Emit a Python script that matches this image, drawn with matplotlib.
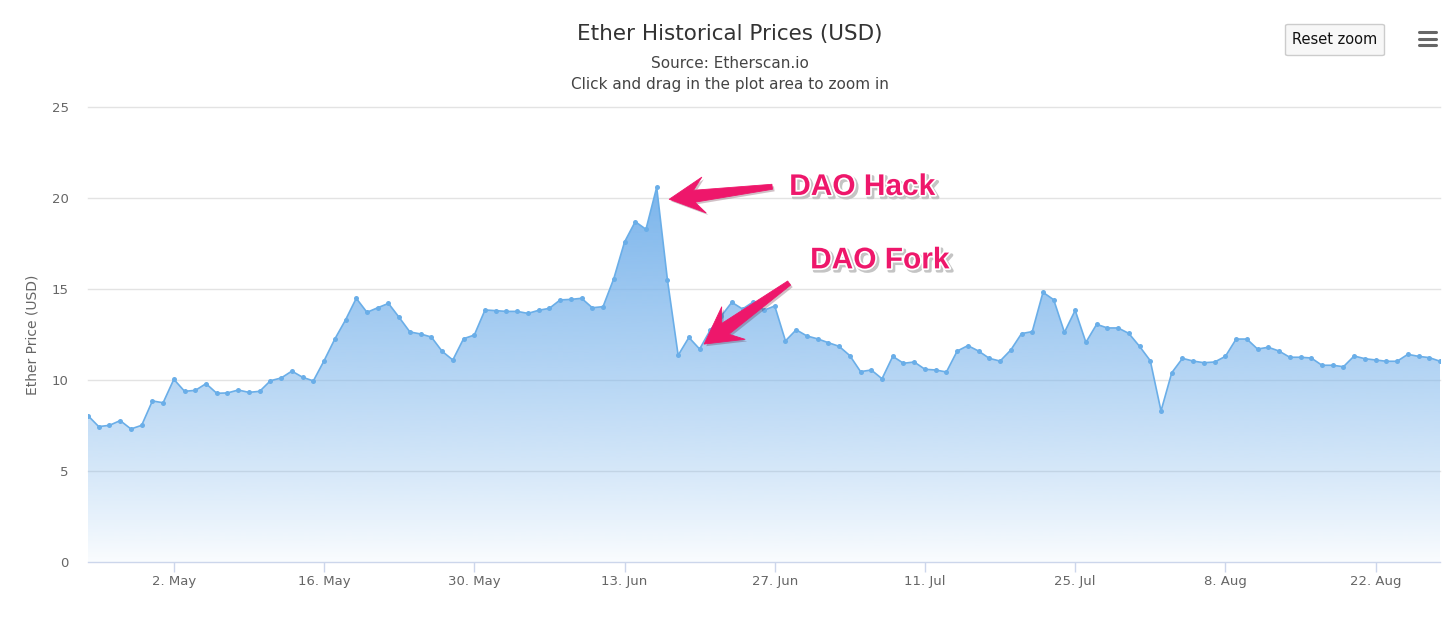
import numpy as np
import pandas as pd
import matplotlib
matplotlib.use("Agg")
import matplotlib.pyplot as plt
import matplotlib.dates as mdates
import matplotlib.patheffects as pe
from matplotlib.patches import Polygon, FancyBboxPatch
from matplotlib.lines import Line2D

# ---- data -------------------------------------------------------------
start_date = "2016-04-24"
prices = [
    8.04, 7.44, 7.51, 7.77, 7.31, 7.51, 8.85, 8.75, 10.04, 9.38,
    9.43, 9.80, 9.27, 9.29, 9.45, 9.32, 9.38, 9.96, 10.11, 10.49,
    10.15, 9.95, 11.06, 12.25, 13.30, 14.49, 13.72, 13.97, 14.21, 13.44,
    12.64, 12.53, 12.36, 11.58, 11.10, 12.27, 12.47, 13.85, 13.81, 13.77,
    13.77, 13.66, 13.83, 13.94, 14.40, 14.43, 14.49, 13.97, 14.03, 15.57,
    17.58, 18.70, 18.28, 20.59, 15.51, 11.36, 12.34, 11.70, 12.75, 13.50,
    14.27, 13.90, 14.29, 13.83, 14.07, 12.15, 12.76, 12.42, 12.26, 12.05,
    11.85, 11.34, 10.46, 10.55, 10.07, 11.30, 10.92, 10.99, 10.59, 10.55,
    10.44, 11.59, 11.89, 11.59, 11.19, 11.04, 11.65, 12.55, 12.66, 14.82,
    14.41, 12.62, 13.83, 12.07, 13.06, 12.86, 12.86, 12.56, 11.85, 11.06,
    8.30, 10.40, 11.19, 11.04, 10.95, 10.99, 11.30, 12.25, 12.25, 11.70,
    11.80, 11.59, 11.25, 11.25, 11.21, 10.81, 10.81, 10.73, 11.32, 11.17,
    11.10, 11.03, 11.03, 11.41, 11.30, 11.23, 11.03,
]
tick_dates = ["2016-05-02", "2016-05-16", "2016-05-30", "2016-06-13", "2016-06-27",
              "2016-07-11", "2016-07-25", "2016-08-08", "2016-08-22"]
tick_labels = ["2. May", "16. May", "30. May", "13. Jun", "27. Jun",
               "11. Jul", "25. Jul", "8. Aug", "22. Aug"]
y_ticks = [0, 5, 10, 15, 20, 25]
event_labels = ["DAO Hack", "DAO Fork"]
event_dates = ["2016-06-16", "2016-06-20"]

# ---- styling ------------------------------------------------------------
SERIES = "#7cb5ec"
LINE = "#6aaee8"
GRID = "#e3e3e3"
AXIS = "#ccd6eb"
LABEL = "#666666"
PINK = "#ee176b"

W, H = 1456, 620
fig = plt.figure(figsize=(W / 100, H / 100), dpi=100)
fig.patch.set_facecolor("white")
L, R, B, T = 88, 1440, 562, 107
ax = fig.add_axes([L / W, 1 - B / H, (R - L) / W, (B - T) / H])
ax.set_facecolor("white")

dates = pd.date_range(start_date, periods=len(prices), freq="D")
x = mdates.date2num(dates)
y = np.array(prices)

ax.set_xlim(x[0], x[-1])
ax.set_ylim(0, 25)

# horizontal grid
for v in y_ticks[1:]:
    ax.axhline(v, color=GRID, lw=1.0, zorder=0.5, clip_on=False)

# gradient area fill (opaque series colour at the top, transparent at zero)
ymax = y.max()
n = 400
rgba = np.zeros((n, 1, 4))
rgba[:, 0, :3] = matplotlib.colors.to_rgb(SERIES)
rgba[:, 0, 3] = np.linspace(0.02, 1.0, n) ** 0.85
im = ax.imshow(rgba, extent=[x[0], x[-1], 0, ymax], origin="lower",
               aspect="auto", zorder=1, interpolation="bilinear")
area = Polygon(np.column_stack([np.r_[x[0], x, x[-1]], np.r_[0, y, 0]]),
               closed=True, facecolor="none", edgecolor="none",
               transform=ax.transData)
ax.add_patch(area)
im.set_clip_path(area)

ax.plot(x, y, color=LINE, lw=1.2, zorder=3)
ax.plot(x, y, "o", color=LINE, ms=3.6, mew=0, zorder=4)

# axes
for s in ["top", "right", "left"]:
    ax.spines[s].set_visible(False)
ax.spines["bottom"].set_color(AXIS)
ax.spines["bottom"].set_linewidth(1.0)
ax.spines["bottom"].set_zorder(5)

ax.set_xticks(mdates.date2num(pd.to_datetime(tick_dates)))
ax.set_xticklabels(tick_labels)
ax.set_yticks(y_ticks)
ax.set_yticklabels([str(v) for v in y_ticks])
ax.tick_params(axis="x", length=7, width=1, color=AXIS, pad=2.5,
               labelsize=9.5, labelcolor=LABEL)
ax.tick_params(axis="y", length=0, pad=14, labelsize=9.5, labelcolor=LABEL)
ax.set_ylabel("Ether Price (USD)", fontsize=10, color=LABEL)
ax.yaxis.label.set_va("center")
ax.yaxis.set_label_coords((33 - L) / (R - L), 0.5)

# titles
fig.text(730 / W, 1 - 34 / H, "Ether Historical Prices (USD)", ha="center",
         va="center", fontsize=15.5, color="#333333")
fig.text(730 / W, 1 - 64 / H, "Source: Etherscan.io", ha="center",
         va="center", fontsize=11, color="#444444")
fig.text(730 / W, 1 - 84 / H, "Click and drag in the plot area to zoom in",
         ha="center", va="center", fontsize=11, color="#444444")

# reset-zoom button and menu icon
bx0, by0, bx1, by1 = 1285.5, 24.5, 1384.5, 55.5
btn = FancyBboxPatch((bx0 / W, 1 - by1 / H), (bx1 - bx0) / W, (by1 - by0) / H,
                     boxstyle="round,pad=0,rounding_size=0.002",
                     transform=fig.transFigure, facecolor="#f7f7f7",
                     edgecolor="#cccccc", lw=1.0)
fig.patches.append(btn)
fig.text((bx0 + bx1) / 2 / W, 1 - 40 / H, "Reset zoom", ha="center",
         va="center", fontsize=10.5, color="#111111")
for yy in (32, 38.5, 45):
    fig.lines.append(Line2D([1418.5 / W, 1436 / W], [1 - yy / H, 1 - yy / H],
                            transform=fig.transFigure, color="#666666",
                            lw=2.2, solid_capstyle="round"))


# ---- annotations ----------------------------------------------------------
def arrow(target, tip_off, tail_off, head_len, head_w, neck_w, tail_w):
    tx, ty = ax.transData.transform(target)
    tip = np.array([tx + tip_off[0], ty + tip_off[1]])
    tail = np.array([tx + tail_off[0], ty + tail_off[1]])
    d = tail - tip
    d = d / np.hypot(*d)
    nrm = np.array([-d[1], d[0]])
    barb = tip + d * head_len
    neck = tip + d * head_len * 0.72
    pts = [tip, barb + nrm * head_w / 2, neck + nrm * neck_w / 2,
           tail + nrm * tail_w / 2, tail - nrm * tail_w / 2,
           neck - nrm * neck_w / 2, barb - nrm * head_w / 2]
    pts = ax.transData.inverted().transform(pts)
    ax.add_patch(Polygon(pts, closed=True, facecolor=PINK, edgecolor=PINK,
                         lw=0.6, joinstyle="round", zorder=7, clip_on=False,
                         path_effects=[pe.SimplePatchShadow(offset=(1.5, -1.5),
                                                            alpha=0.25),
                                       pe.Normal()]))


SHADOW = "#c4c4c4"
text_fx = [pe.SimplePatchShadow(offset=(1.8, -1.8), shadow_rgbFace=SHADOW, alpha=1.0),
           pe.Stroke(linewidth=2.5, foreground=SHADOW, offset=(1.8, -1.8)),
           pe.Stroke(linewidth=2.5, foreground="white"),
           pe.Normal()]

hack_i = list(dates).index(pd.Timestamp(event_dates[0]))
fork_i = list(dates).index(pd.Timestamp(event_dates[1]))
hack_pt = (x[hack_i], y[hack_i])
fork_pt = (x[fork_i], y[fork_i])

arrow(hack_pt, (12.5, -12), (115.5, 0.5), 35, 36, 12, 5)
arrow(fork_pt, (4.5, 5), (89.5, 66), 36, 40, 13, 5)

ax.annotate(event_labels[0], xy=hack_pt, xytext=(132.5, -7.7),
            textcoords="offset pixels", ha="left", va="baseline",
            fontsize=21.5, fontweight="bold", family="Liberation Sans",
            color=PINK, zorder=8, path_effects=text_fx, annotation_clip=False)
ax.annotate(event_labels[1], xy=fork_pt, xytext=(110.5, 80.7),
            textcoords="offset pixels", ha="left", va="baseline",
            fontsize=21.5, fontweight="bold", family="Liberation Sans",
            color=PINK, zorder=8, path_effects=text_fx, annotation_clip=False)

fig.savefig("out.png", dpi=100, facecolor="white")
